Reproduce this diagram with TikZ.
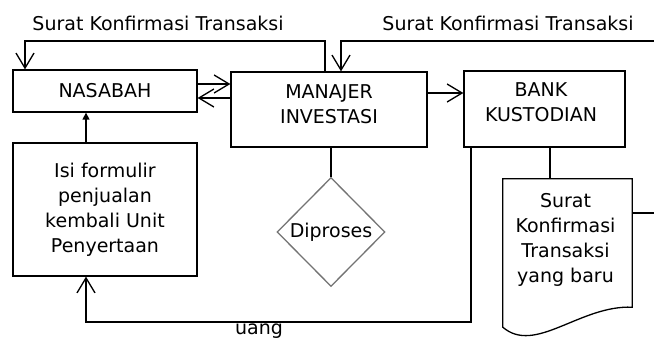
\documentclass[tikz,border=0pt]{standalone}
\usepackage{fontspec}
\setmainfont{DejaVu Sans}
\usetikzlibrary{arrows.meta,shapes.geometric,calc}
\tikzset{
  barb/.tip={Straight Barb[length=15pt,width=18pt]},
  ftri/.tip={Triangle[length=7pt,width=7pt]},
  lnk/.style={line width=1.3pt},
  box/.style={draw,line width=1.3pt,inner sep=0pt,align=center,
    font=\fontsize{19}{25}\selectfont},
  lbl/.style={inner sep=0pt,align=center,font=\fontsize{19}{25}\selectfont},
  dia/.style={draw=black!55,line width=1.3pt,diamond,inner sep=0pt,
    minimum width=108pt,minimum height=109pt,font=\fontsize{19}{25}\selectfont}
}
\begin{document}
\begin{tikzpicture}[x=1pt,y=-1pt]
\useasboundingbox (0,0) rectangle (654,347);
% boxes
\node[box,minimum width=184pt,minimum height=42pt] (nas) at (105,91) {NASABAH};
\node[box,minimum width=184pt,minimum height=133pt] (isi) at (105,209.5)
  {Isi formulir\\penjualan\\kembali Unit\\Penyertaan};
\node[box,minimum width=196pt,minimum height=75pt,
  label={[lbl,yshift=5pt]center:MANAJER\\INVESTASI}] (man) at (329,109.5) {};
\node[box,minimum width=161pt,minimum height=76pt,
  label={[lbl,yshift=6.5pt,xshift=-3.5pt]center:BANK\\KUSTODIAN}] (bank) at (544.5,109) {};
\node[dia] (dp) at (331,232) {Diproses};
\node[lbl,minimum width=129pt,minimum height=128pt,
  label={[lbl,yshift=3.5pt,xshift=-2pt]center:Surat\\Konfirmasi\\Transaksi\\yang baru}] (doc) at (567.5,243) {};
\draw[lnk] (doc.north west) -- (doc.north east) -- (doc.south east)
  .. controls (580,305) and (535,355) .. ($(doc.south west)+(0,20)$) -- cycle;
% labels
\node[lbl] (l1) at (158,23) {Surat Konfirmasi Transaksi};
\node[lbl] (l2) at (508,23) {Surat Konfirmasi Transaksi};
\node[lbl] (ua) at (259,331) {uang};
% coordinates
\coordinate (t1) at (25,41);
\coordinate (t2) at (325,41);
\coordinate (r1) at (654,41);
\coordinate (r2) at (341,41);
\coordinate (mb) at (0,93);
\coordinate (uy) at (86,322);
\coordinate (ub) at (471,322);
\coordinate (bd) at (550,179);
\coordinate (re) at (654,213);
% connectors
\draw[lnk,-barb] (man.north -| t2) -- (t2) -- (t1) -- (t1 |- nas.north);
\draw[lnk,-barb] (r1) -- (r2) -- (r2 |- man.north);
\draw[lnk,-barb] ([yshift=7pt]nas.east) -- ([yshift=7pt]nas.east -| man.west);
\draw[lnk,-barb] ([yshift=-7pt]nas.east -| man.west) -- ([yshift=-7pt]nas.east);
\draw[lnk,-barb] (man.east |- mb) -- (bank.west |- mb);
\draw[lnk,-ftri] (isi.north -| uy) -- (nas.south -| uy);
\draw[lnk,-barb] (bank.south -| ub) -- (ub) -- (uy) -- (isi.south -| uy);
\draw[lnk] (man.south -| dp.north) -- (dp.north);
\draw[lnk] (bank.south -| bd) -- (doc.north -| bd);
\draw[lnk] (doc.east |- re) -- (re);
\end{tikzpicture}
\end{document}
